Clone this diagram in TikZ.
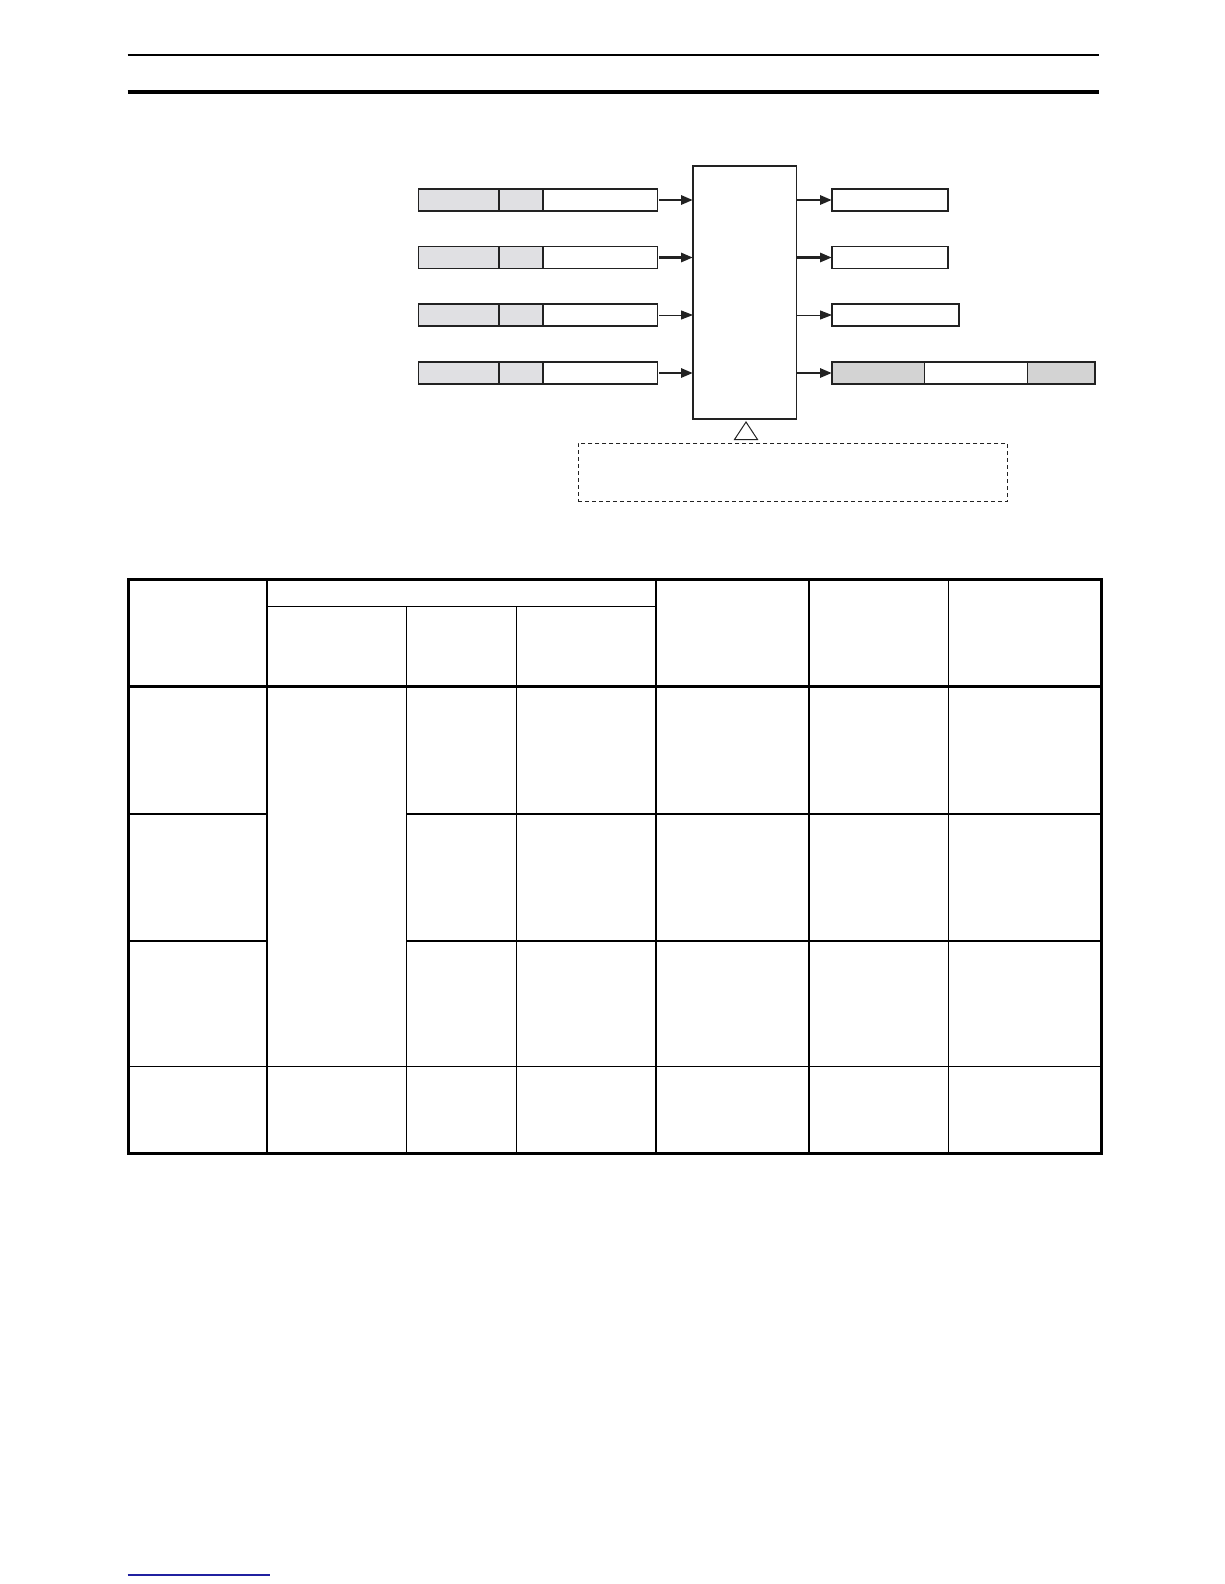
\documentclass[tikz,border=0pt]{standalone}
\usetikzlibrary{arrows.meta}
\definecolor{ingray}{HTML}{E0E0E3}
\definecolor{outgray}{HTML}{D3D3D3}
\definecolor{boxline}{HTML}{222222}
\definecolor{footblue}{HTML}{2020A0}
\tikzset{
  seg/.style={draw=boxline, line width=1.1pt, rectangle, inner sep=0pt, minimum height=22pt, anchor=west, outer sep=0pt},
  ingseg/.style={seg, fill=ingray},
  outgseg/.style={seg, fill=outgray},
  whiteseg/.style={seg, fill=white},
  mainbox/.style={draw=boxline, line width=1.1pt, rectangle, inner sep=0pt, minimum width=103.5pt, minimum height=253pt, outer sep=0pt},
  thickarrow/.style={line width=2.8pt, draw=boxline, -{Triangle[length=12pt,width=9pt]}, shorten <=1.5pt},
  thinarrow/.style={line width=1pt, draw=boxline, -{Triangle[length=12pt,width=9pt]}, shorten <=1.5pt},
  tabthick/.style={line width=3pt, line cap=rect},
  tabthin/.style={line width=1.6pt},
}
\begin{document}
\begin{tikzpicture}[x=1pt,y=-1pt]
\useasboundingbox (0,0) rectangle (1224,1584);
% header rules
\draw[line width=1.8pt] (127.5,55) -- (1099,55);
\draw[line width=4.3pt] (127.5,92) -- (1099,92);

% central block
\node[mainbox] (c) at (744.75,292.5) {};

% input boxes
\foreach \i/\y in {1/200,2/257.5,3/315,4/373}{
  \node[ingseg, minimum width=80.5pt] (ia\i) at (418.5,\y) {};
  \node[ingseg, minimum width=44pt] (ib\i) at (ia\i.east) {};
  \node[whiteseg, minimum width=114.5pt] (ic\i) at (ib\i.east) {};
}
\draw[thickarrow] (ic1.east) -- (ic1.east -| c.west);
\draw[thickarrow] (ic2.east) -- (ic2.east -| c.west);
\draw[thinarrow]  (ic3.east) -- (ic3.east -| c.west);
\draw[thickarrow] (ic4.east) -- (ic4.east -| c.west);

% output boxes
\node[whiteseg, minimum width=116pt] (o1) at (832,200) {};
\node[whiteseg, minimum width=116pt] (o2) at (832,257.5) {};
\node[whiteseg, minimum width=127pt] (o3) at (832,315) {};
\node[outgseg, minimum width=92.5pt] (o4a) at (832,373) {};
\node[whiteseg, minimum width=103pt] (o4b) at (o4a.east) {};
\node[outgseg, minimum width=67.5pt] (o4c) at (o4b.east) {};

\coordinate (r1) at (c.east |- o1.west);
\coordinate (r2) at (c.east |- o2.west);
\coordinate (r3) at (c.east |- o3.west);
\coordinate (r4) at (c.east |- o4a.west);
\draw[thickarrow, shorten <=0.7pt] (r1) -- (o1.west);
\draw[thickarrow, shorten <=0.7pt] (r2) -- (o2.west);
\draw[thinarrow, shorten <=0.7pt]  (r3) -- (o3.west);
\draw[thickarrow, shorten <=0.7pt] (r4) -- (o4a.west);

% triangle and dashed box
\draw[line width=1pt, draw=boxline] (746,422) -- (734.5,439.5) -- (757.5,439.5) -- cycle;
\node[draw=boxline, line width=1pt, dash pattern=on 4pt off 3pt, rectangle, inner sep=0pt,
      minimum width=429.5pt, minimum height=58pt] (d) at (793,472) {};

% table
\def\xa{128.4}\def\xb{266.9}\def\xc{406.4}\def\xd{516.6}\def\xe{656.1}\def\xf{808.8}\def\xg{948.3}\def\xh{1101}
\def\ya{579.3}\def\yb{606.6}\def\yc{686.5}\def\yd{813.9}\def\ye{941.2}\def\yf{1066.6}\def\yg{1153.5}
% inner vertical lines
\foreach \x in {\xb,\xc,\xd,\xf,\xg}{
  \draw[tabthin] (\x,\yb) -- (\x,\yg);
}
\draw[tabthin] (\xb,\ya) -- (\xb,\yb);
\draw[tabthin] (\xe,\ya) -- (\xe,\yg);
\draw[tabthin] (\xf,\ya) -- (\xf,\yb);
\draw[tabthin] (\xg,\ya) -- (\xg,\yb);
% subheader line
\draw[tabthin] (\xb,\yb) -- (\xe,\yb);
% row lines
\draw[tabthin] (\xa,\yd) -- (\xb,\yd);
\draw[tabthin] (\xc,\yd) -- (\xh,\yd);
\draw[tabthin] (\xa,\ye) -- (\xb,\ye);
\draw[tabthin] (\xc,\ye) -- (\xh,\ye);
\draw[tabthin] (\xa,\yf) -- (\xh,\yf);
% thick header rule and border
\draw[tabthick] (\xa,\yc) -- (\xh,\yc);
\draw[tabthick] (\xa,\ya) rectangle (\xh,\yg);

% footer rule
\draw[line width=1.2pt, footblue] (127.5,1575) -- (269.5,1575);
\end{tikzpicture}
\end{document}
